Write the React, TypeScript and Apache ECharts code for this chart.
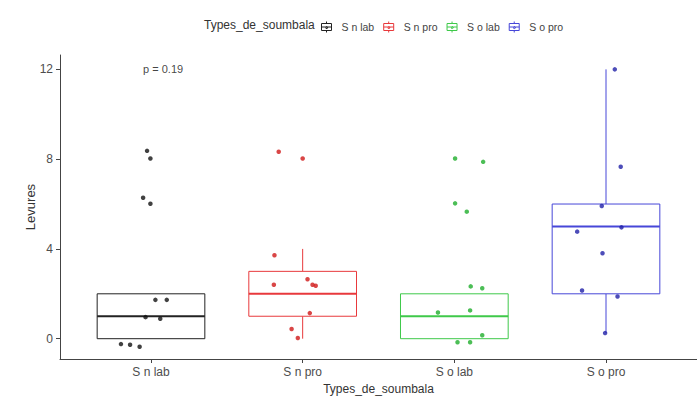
import React, { useEffect, useRef } from "react";
import * as echarts from "echarts";

// ---- data ----
const categories = ["S n lab", "S n pro", "S o lab", "S o pro"];
const yTicks = [0, 4, 8, 12];
const xTicks = [1, 2, 3, 4];

// box stats: [lowerWhisker, q1, median, q3, upperWhisker]
const boxSnLab = [0, 0, 1, 2, 2];
const boxSnPro = [0, 1, 2, 3, 4];
const boxSoLab = [0, 0, 1, 2, 2];
const boxSoPro = [0.25, 2, 5, 6, 12];

// jittered points: values and horizontal jitter offsets
const ptsSnLab = [8.37, 8.03, 6.28, 6.01, 1.73, 1.73, 0.96, 0.89, -0.24, -0.27, -0.36];
const jitSnLab = [-0.026, -0.004, -0.052, -0.004, 0.029, 0.104, -0.036, 0.061, -0.198, -0.138, -0.075];
const ptsSnPro = [8.33, 8.03, 3.72, 2.4, 2.65, 2.4, 2.36, 1.14, 0.43, 0.03];
const jitSnPro = [-0.158, 0, -0.186, -0.19, 0.032, 0.065, 0.086, 0.047, -0.073, -0.032];
const ptsSoLab = [8.03, 7.88, 6.03, 5.66, 2.33, 2.25, 1.17, 1.26, 0.15, -0.16, -0.16];
const jitSoLab = [0.005, 0.19, 0.005, 0.082, 0.108, 0.184, -0.108, 0.104, 0.184, 0.021, 0.104];
const ptsSoPro = [12.0, 7.66, 5.91, 4.96, 4.77, 3.81, 2.15, 1.88, 0.25];
const jitSoPro = [0.058, 0.097, -0.028, 0.102, -0.19, -0.023, -0.158, 0.076, -0.006];

const pLabel = "p = 0.19";
const pLabelPos = [1.08, 12];

// ---- styles ----
const lineColors = ["#222222", "#e8393c", "#3fc94a", "#4747d8"];
const pointColors = ["#111111", "#d01818", "#1fae2c", "#2020a8"];
const BOX_WIDTH = 0.71;
const FONT = "'Liberation Sans', Arial, sans-serif";

const boxes = [boxSnLab, boxSnPro, boxSoLab, boxSoPro];
const pts = [ptsSnLab, ptsSnPro, ptsSoLab, ptsSoPro];
const jits = [jitSnLab, jitSnPro, jitSoLab, jitSoPro];

const LEGEND_ICON =
  "path://M6,0L6,2M1,2L11,2L11,9L1,9ZM1,5.5L11,5.5M6,9L6,11M6.9,5.5A0.9,0.9,0,1,1,6.89,5.49Z";

export default function App() {
  const ref = useRef<HTMLDivElement>(null);
  useEffect(() => {
    if (!ref.current) return;
    const chart = echarts.init(ref.current, undefined, { renderer: "svg" });

    const boxSeries = categories.map((name, i) => ({
      type: "custom",
      name,
      data: [[i + 1, ...boxes[i]]],
      encode: { x: 0, y: [1, 2, 3, 4, 5] },
      renderItem: (params: any, api: any) => {
        const x = api.value(0);
        const lo = api.value(1), q1 = api.value(2), med = api.value(3), q3 = api.value(4), hi = api.value(5);
        const h = BOX_WIDTH / 2;
        const tl = api.coord([x - h, q3]);
        const br = api.coord([x + h, q1]);
        const ml = api.coord([x - h, med]);
        const mr = api.coord([x + h, med]);
        const pHi = api.coord([x, hi]);
        const pQ3 = api.coord([x, q3]);
        const pLo = api.coord([x, lo]);
        const pQ1 = api.coord([x, q1]);
        const c = lineColors[i];
        const children: any[] = [];
        if (hi > q3) {
          children.push({ type: "line", shape: { x1: pHi[0], y1: pHi[1], x2: pQ3[0], y2: pQ3[1] }, style: { stroke: c, lineWidth: 1 } });
        }
        if (lo < q1) {
          children.push({ type: "line", shape: { x1: pQ1[0], y1: pQ1[1], x2: pLo[0], y2: pLo[1] }, style: { stroke: c, lineWidth: 1 } });
        }
        children.push({
          type: "rect",
          shape: { x: tl[0], y: tl[1], width: br[0] - tl[0], height: br[1] - tl[1] },
          style: { stroke: c, fill: "#ffffff", lineWidth: 1 },
        });
        children.push({ type: "line", shape: { x1: ml[0], y1: ml[1], x2: mr[0], y2: mr[1] }, style: { stroke: c, lineWidth: 2 } });
        return { type: "group", children };
      },
    }));

    const pointSeries = categories.map((name, i) => ({
      type: "scatter",
      name,
      symbol: "circle",
      symbolSize: 4.5,
      itemStyle: { color: pointColors[i] },
      data: pts[i].map((v, k) => [i + 1 + jits[i][k], v]),
    }));

    const option: any = {
      animation: false,
      textStyle: { fontFamily: FONT },
      grid: { left: 60, right: -11, top: 55, bottom: 43 },
      legend: {
        left: 321,
        top: 21,
        padding: 0,
        itemWidth: 12,
        itemHeight: 11,
        itemGap: 9,
        textStyle: { fontSize: 10.5, color: "#444", fontFamily: FONT, padding: [0, 0, 0, 4] },
        data: categories.map((name, i) => ({
          name,
          icon: LEGEND_ICON,
          itemStyle: { color: "#ffffff", borderColor: lineColors[i], borderWidth: 1 },
        })),
      },
      graphic: [
        {
          type: "text",
          left: 204,
          top: 19,
          style: { text: "Types_de_soumbala", fontSize: 12, fill: "#333", fontFamily: FONT },
        },
      ],
      xAxis: {
        type: "value",
        min: 0.4,
        max: 4.6,
        splitLine: { show: false },
        axisLine: { onZero: false, lineStyle: { color: "#444", width: 1 } },
        axisTick: { customValues: xTicks, length: 4, lineStyle: { color: "#444" } },
        axisLabel: {
          customValues: xTicks,
          formatter: (v: number) => categories[Math.round(v) - 1],
          fontSize: 12,
          color: "#4d4d4d",
          margin: 7,
          fontFamily: FONT,
        },
        name: "Types_de_soumbala",
        nameLocation: "middle",
        nameGap: 24,
        nameMoveOverlap: false,
        nameTextStyle: { fontSize: 12, color: "#333", fontFamily: FONT },
      },
      yAxis: {
        type: "value",
        min: -0.905,
        max: 12.64,
        splitLine: { show: false },
        axisLine: { show: true, onZero: false, lineStyle: { color: "#444", width: 1 } },
        axisTick: { show: true, customValues: yTicks, length: 4, lineStyle: { color: "#444" } },
        axisLabel: {
          customValues: yTicks,
          fontSize: 12,
          color: "#4d4d4d",
          margin: 7,
          fontFamily: FONT,
        },
        name: "Levures",
        nameLocation: "middle",
        nameGap: 23,
        nameMoveOverlap: false,
        nameTextStyle: { fontSize: 13, color: "#333", fontFamily: FONT },
      },
      series: [
        ...boxSeries,
        ...pointSeries,
        {
          type: "scatter",
          name: "pval",
          symbolSize: 0,
          data: [pLabelPos],
          label: {
            show: true,
            position: "inside",
            formatter: pLabel,
            fontSize: 11,
            color: "#111",
            fontFamily: FONT,
          },
          silent: true,
        },
      ],
    };
    chart.setOption(option);
    return () => chart.dispose();
  }, []);

  return (
    <div
      ref={ref}
      style={{ position: "absolute", left: 0, top: 0, width: 697, height: 402, background: "#fff" }}
    />
  );
}
